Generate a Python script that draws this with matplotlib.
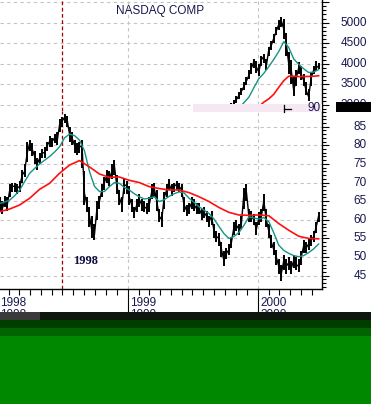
import matplotlib
matplotlib.use("Agg")
import matplotlib.pyplot as plt
import matplotlib.dates as mdates
from matplotlib.patches import Rectangle
from matplotlib.lines import Line2D
from matplotlib.ticker import MultipleLocator
import pandas as pd
from datetime import datetime

plt.rcParams['font.family'] = ['Liberation Sans', 'DejaVu Sans']

# ---------------- data ----------------
week_dates = pd.date_range('1998-01-06', periods=129, freq='7D')

stock_close = [64, 63, 65, 64, 68, 69, 69, 68.5, 69, 72,
               73, 78, 80.5, 79, 77, 75, 76.5, 78, 78, 80,
               81, 81, 82, 81, 85.5, 86.5, 87.5, 87, 83, 82,
               80, 79, 79.5, 80, 67, 64, 61, 57, 56, 63,
               65, 68, 70, 72, 71, 73, 74.5, 69, 66, 64,
               69.5, 69, 66, 64, 62, 64, 65.5, 64, 63.5, 63,
               64, 67.5, 68.5, 65, 61, 60, 66, 68, 69.5, 68,
               69, 69.5, 69, 68, 64, 62.5, 63, 64.5, 64, 63,
               63, 61.5, 62, 61, 59.5, 61, 57, 55.5, 55, 52,
               49, 51, 52, 54, 58, 58.5, 57.5, 59, 67, 67.5,
               61, 61, 60, 57.5, 60.5, 61, 65, 60, 57, 54,
               52, 50, 47.5, 45.5, 49, 47.5, 48.5, 47, 49, 48,
               47.5, 50, 53, 52.5, 53.5, 54.5, 55.5, 58, 61]
stock_high = [66, 65, 66.5, 66, 69.5, 70, 70, 69.5, 70.5, 73.5,
              75, 81, 81.5, 80.5, 78.5, 76.5, 78, 79, 79.5, 81,
              82.5, 82, 83, 83.5, 87, 87.5, 88.5, 88, 85, 83.5,
              81.5, 80.5, 81, 81.5, 73, 66, 63.5, 61, 59, 65,
              66.5, 69.5, 71.5, 73.5, 73, 75, 76, 72, 68, 66,
              71, 70.5, 69, 65.5, 63.5, 65.5, 67, 65.5, 65, 64.5,
              66, 69.5, 70, 68, 63, 62, 67.5, 69.5, 71, 69.5,
              70, 70.5, 70, 69.5, 66, 64, 64.5, 66, 65.5, 64.5,
              64.5, 63, 63.5, 62.5, 61, 62.5, 59, 57, 56.5, 54,
              51.5, 52.5, 53.5, 55.5, 59.5, 60, 59, 61, 68.5, 69.5,
              63, 62.5, 61.5, 59.5, 62, 63, 67, 63, 59, 56,
              54, 52, 49.5, 48, 50.5, 49.5, 50, 49, 50.5, 50,
              49.5, 51.5, 54.5, 54, 55, 56, 57, 59.5, 62]
stock_low = [62, 61.5, 63.5, 62.5, 66, 67.5, 67.5, 67, 67.5, 70,
             71.5, 75.5, 78.5, 77, 75, 73.5, 75, 76.5, 76.5, 78.5,
             79.5, 79.5, 80.5, 80, 83.5, 85, 86, 85, 81, 80,
             78, 77.5, 78, 74, 64, 62, 58, 55, 54.5, 60,
             63, 66, 68, 70, 69, 71, 72, 67, 64, 62,
             67, 67, 64, 62, 60.5, 62, 63.5, 62.5, 62, 61.5,
             62, 65.5, 66, 62.5, 59.5, 58, 63, 66, 68, 66.5,
             67.5, 68, 67.5, 66, 62, 61, 61.5, 63, 62.5, 61.5,
             61.5, 60, 60.5, 59.5, 58, 58.5, 55, 54, 53, 50,
             47.5, 49.5, 50.5, 52.5, 56, 57, 56, 57.5, 63, 65,
             59.5, 59.5, 58.5, 56, 58.5, 59.5, 62.5, 58, 55, 52.5,
             50.5, 48, 45.5, 43.5, 46.5, 45.5, 46.5, 45.5, 47, 46.5,
             46, 48, 51, 51, 52, 53, 54, 56.5, 59.5]

# 50-day average (every 2nd week) and 200-day average (every 4th week)
stock_ma50 = [64.4, 64.8, 65.3, 66.5, 68, 70.3, 72.5, 73.8, 75, 76,
              77, 78.2, 79.6, 82, 83, 82.6, 81.4, 78.5, 73, 69,
              67.6, 67.6, 68.9, 70, 69.8, 68.7, 68, 67, 66.2, 65.6,
              65.8, 66.2, 64.9, 65.4, 66.3, 67, 67.5, 67.2, 65.8, 64.7,
              63.5, 62.6, 61.7, 60.2, 58.2, 56.3, 55, 55.5, 56.6, 58.5,
              60.8, 60.5, 60.2, 60.6, 59.5, 56.5, 53.2, 51.8, 51, 50.4,
              50.1, 50.4, 51.2, 52.2, 53.5]
stock_ma200 = [62.2, 62.9, 64, 65.8, 68.2, 69.8, 72.5, 74.7, 75.9, 74.2,
               72.3, 71.4, 71.5, 70.6, 70, 68.9, 68.4, 68, 68, 67.3,
               66.2, 64.9, 63.3, 62, 61.3, 61.2, 61.3, 61.1, 59, 57.2,
               55.6, 55, 54.9]

# NASDAQ Composite (weeks 90..128)
nasdaq_close = [2700, 2800, 2870, 2950, 3040, 3130, 3230, 3330, 3450, 3580,
                3720, 3900, 4050, 3920, 3800, 4100, 4180, 3950, 4350, 4450,
                4620, 4800, 4950, 5050, 4850, 4500, 4000, 3850, 3350, 3650,
                3900, 3750, 3600, 3350, 3200, 3650, 3850, 3900, 3950]
nasdaq_high = [2780, 2880, 2950, 3040, 3120, 3220, 3320, 3420, 3560, 3680,
               3840, 4020, 4120, 4060, 4000, 4180, 4250, 4120, 4420, 4560,
               4720, 4900, 5060, 5130, 5080, 4750, 4300, 4100, 3700, 3850,
               4050, 3950, 3750, 3550, 3400, 3800, 3950, 4080, 4020]
nasdaq_low = [2620, 2720, 2790, 2870, 2960, 3050, 3140, 3240, 3370, 3480,
              3620, 3760, 3900, 3780, 3700, 3950, 4030, 3850, 4200, 4330,
              4500, 4700, 4820, 4900, 4600, 4200, 3750, 3500, 3220, 3450,
              3750, 3600, 3450, 3250, 3100, 3450, 3750, 3820, 3880]
nasdaq_ma50 = [2930, 3055, 3190, 3420, 3640, 3770, 3930, 4110, 4300, 4540,
               4400, 4120, 3990, 3880, 3790, 3800, 3860]          # weeks 96..128 step 2
nasdaq_ma200 = [2960, 3070, 3150, 3260, 3430, 3590, 3700, 3700, 3690, 3690,
                3695, 3700, 3710]                                # weeks 104..128 step 2

top_labels = [3000, 3500, 4000, 4500, 5000]
bot_labels = [45, 50, 55, 60, 65, 70, 75, 80, 85]
year_labels = ['1998', '1999', '2000']
year_dates = [datetime(1998, 1, 1), datetime(1999, 1, 1), datetime(2000, 1, 1)]
marker_date = datetime(1998, 6, 29)

# ---------------- figure ----------------
W, H = 371, 404
fig = plt.figure(figsize=(W / 100, H / 100), dpi=100)
fig.patch.set_facecolor('white')


def box(x0, y0, x1, y1):
    return [x0 / W, 1 - y1 / H, (x1 - x0) / W, (y1 - y0) / H]


axT = fig.add_axes(box(0, 0, 322, 111))
axB = fig.add_axes(box(0, 111, 322, 289))

NAVY = '#181850'
GRID = '#c4c4c4'
TEAL = '#139486'
RED = '#ff1010'
xl = (mdates.date2num(datetime(1998, 1, 6, 14)), mdates.date2num(datetime(2000, 6, 29, 12)))

for ax in (axT, axB):
    ax.set_xlim(*xl)
    ax.set_facecolor('none')
    for s in ('top', 'left'):
        ax.spines[s].set_visible(False)
    ax.spines['right'].set_linewidth(1)
    ax.yaxis.tick_right()
    ax.tick_params(axis='y', which='major', direction='out', length=5.2, width=0.8, labelright=False)
    ax.tick_params(axis='y', which='minor', direction='out', length=3, width=0.8)
    ax.xaxis.set_major_locator(mdates.YearLocator())
    ax.xaxis.set_minor_locator(mdates.MonthLocator())
    ax.grid(True, which='major', color=GRID, linestyle=(0, (3, 3)), linewidth=0.8)
    ax.set_axisbelow(True)
    ax.axvline(marker_date, color='#a00000', linestyle=(0, (3, 2)), linewidth=0.9, zorder=1)

axT.spines['bottom'].set_visible(False)
axT.tick_params(axis='x', which='both', bottom=False, labelbottom=False)
axT.set_ylim(2854, 5551.6)
axT.yaxis.set_major_locator(MultipleLocator(500))
axT.yaxis.set_minor_locator(MultipleLocator(100))

axB.set_ylim(41.43, 89.21)
axB.yaxis.set_major_locator(MultipleLocator(5))
axB.yaxis.set_minor_locator(MultipleLocator(1))
axB.spines['bottom'].set_linewidth(1)
axB.tick_params(axis='x', which='major', direction='out', length=16.5, width=0.8, labelbottom=False)
axB.tick_params(axis='x', which='minor', direction='out', length=4.3, width=0.8)

# bottom panel series
axB.vlines(week_dates, stock_low, stock_high, color='black', linewidth=1.4, zorder=3)
axB.plot(week_dates, stock_close, color='black', linewidth=1.0, zorder=3)
axB.plot(week_dates[0::2], stock_ma50, color=TEAL, linewidth=1.0, zorder=4)
axB.plot(week_dates[0::4], stock_ma200, color=RED, linewidth=1.2, zorder=4)

# top panel series
nd = week_dates[90:]
axT.vlines(nd, nasdaq_low, nasdaq_high, color='black', linewidth=1.4, zorder=3)
axT.plot(nd, nasdaq_close, color='black', linewidth=1.0, zorder=3)
axT.plot(week_dates[96::2], nasdaq_ma50, color=TEAL, linewidth=1.0, zorder=4)
axT.plot(week_dates[104::2], nasdaq_ma200, color=RED, linewidth=1.2, zorder=4)

FS = 8.5
for v in top_labels:
    axT.annotate(str(v), xy=(1, v), xycoords=('axes fraction', 'data'), xytext=(45, 0),
                 textcoords='offset pixels', ha='right', va='center', fontsize=FS,
                 color=NAVY, annotation_clip=False)
for v in bot_labels:
    axB.annotate(str(v), xy=(1, v), xycoords=('axes fraction', 'data'), xytext=(45, 0),
                 textcoords='offset pixels', ha='right', va='center', fontsize=FS,
                 color=NAVY, annotation_clip=False)

for d, s in zip(year_dates, year_labels):
    axB.annotate(s, xy=(d, 0), xycoords=('data', 'axes fraction'), xytext=(2.5, -8),
                 textcoords='offset pixels', ha='left', va='top', fontsize=FS,
                 color=NAVY, annotation_clip=False)
    axB.annotate(s, xy=(d, 0), xycoords=('data', 'axes fraction'), xytext=(2.5, -20),
                 textcoords='offset pixels', ha='left', va='top', fontsize=FS,
                 color=NAVY, annotation_clip=False)

axB.text(datetime(1998, 7, 30), 48.1, '1998', fontsize=9, fontweight='bold',
         family=['Liberation Serif', 'DejaVu Serif'], color='#101040', va='baseline', ha='left')

fig.text(160 / W, 1 - 11 / H, 'NASDAQ COMP', ha='center', va='center', fontsize=FS, color=NAVY)

# overlay strip artefacts
fig.patches.append(Rectangle((193 / W, 1 - 112 / H), (322 - 193) / W, 8 / H,
                             transform=fig.transFigure, facecolor='#f6e8f3', edgecolor='none', zorder=2))
fig.patches.append(Rectangle((336 / W, 1 - 111.5 / H), (371 - 336) / W, 9.5 / H,
                             transform=fig.transFigure, facecolor='black', edgecolor='none', zorder=2))
fig.lines.append(Line2D([283.5 / W, 283.5 / W], [1 - 105 / H, 1 - 112 / H], transform=fig.transFigure,
                        color='black', linewidth=0.9, zorder=3))
fig.lines.append(Line2D([283.5 / W, 291 / W], [1 - 108.5 / H, 1 - 108.5 / H], transform=fig.transFigure,
                        color='black', linewidth=0.9, zorder=3))
fig.text(321 / W, 1 - 108 / H, '90', ha='right', va='center', fontsize=FS, color=NAVY, zorder=4)

# green band at the bottom
bands = [(312, 320, '#0c180c'), (320, 328, '#003e00'), (328, 336, '#006400'), (336, 404, '#008800')]
for y0, y1, c in bands:
    fig.patches.append(Rectangle((0, 1 - y1 / H), 1, (y1 - y0) / H, transform=fig.transFigure,
                                 facecolor=c, edgecolor='none', zorder=5))
fig.patches.append(Rectangle((0, 1 - 320 / H), 40 / W, 8 / H, transform=fig.transFigure,
                             facecolor='#3a3a3a', edgecolor='none', zorder=5))

fig.savefig('out.png', dpi=100, facecolor='white')
